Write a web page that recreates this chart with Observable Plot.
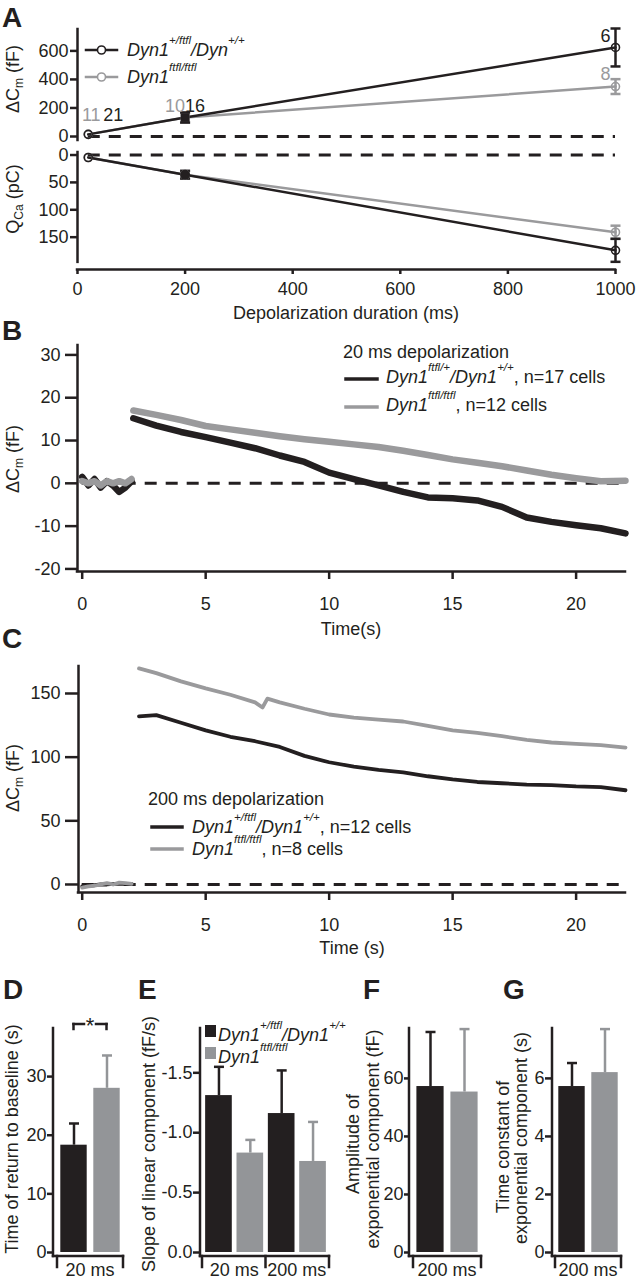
<!DOCTYPE html>
<html>
<head>
<meta charset="utf-8">
<script src="https://cdn.jsdelivr.net/npm/d3@7"></script>
<script src="https://cdn.jsdelivr.net/npm/@observablehq/plot@0.6"></script>
<style>
html,body{margin:0;padding:0;background:#fff;}
#fig{position:relative;width:636px;height:1280px;overflow:hidden;background:#fff;font-family:"Liberation Sans",Arial,Helvetica,sans-serif;color:#231f20;}
.lab{position:absolute;white-space:nowrap;line-height:1;}
.rot{position:absolute;white-space:nowrap;line-height:1;font-size:18px;transform:translate(-50%,-50%) rotate(-90deg);}
.sup{font-size:11.5px;position:relative;top:-12px;font-style:italic;}
.sub{font-size:12px;position:relative;top:4px;}
</style>
</head>
<body>
<div id="fig"></div>
<script>
// ---------------- data ----------------
const genotypes = ["ctrl", "ko"];          // Dyn1+/ftfl (control), Dyn1ftfl/ftfl
// Panel A
const durations = [20, 200, 1000];
const dCmCtrl = [15, 133, 624];
const dCmCtrlErr = [0, 35, 133];
const dCmKo = [15, 133, 350];
const dCmKoErr = [0, 35, 52];
const qCaCtrl = [4.5, 36, 174];
const qCaCtrlErr = [0, 7, 21];
const qCaKo = [4.5, 36, 141];
const qCaKoErr = [0, 7, 12];
const nCtrl = [21, 16, 6];
const nKo = [11, 10, 8];
const durTicks = [0, 200, 400, 600, 800, 1000];
const dCmTicks = [0, 200, 400, 600];
const qCaTicks = [0, 50, 100, 150];
// Panel B (20 ms depolarization)
const tBBase = [0, 0.25, 0.5, 0.75, 1, 1.25, 1.5, 1.75, 2];
const bBaseCtrl = [1.5, -0.5, 1, -1, 0.5, -0.5, -2, -1, 0.5];
const bBaseKo = [0.5, 0, 0.5, -0.5, 0.5, 0, 0.5, 0, 1];
const tB = [2.07, 3, 4, 5, 6, 7, 8, 9, 10, 11, 12, 13, 14, 15, 16, 17, 18, 19, 20, 21, 22];
const bCtrl = [15.2, 13.5, 12, 10.8, 9.5, 8.2, 6.5, 5, 2.5, 1, -0.5, -2, -3.3, -3.5, -4, -5.5, -8, -9, -9.8, -10.5, -11.7];
const bKo = [17, 16, 14.8, 13.4, 12.6, 11.8, 11, 10.3, 9.7, 9.1, 8.5, 7.6, 6.6, 5.6, 4.8, 4, 3, 2, 1.2, 0.5, 0.6];
const bTicksY = [-20, -10, 0, 10, 20, 30];
const timeTicks = [0, 5, 10, 15, 20];
// Panel C (200 ms depolarization)
const tCBase = [0, 0.25, 0.5, 0.75, 1, 1.25, 1.5, 1.75, 2];
const cBaseCtrl = [-1.5, -1, -0.5, 0, 0, 0.5, 0.5, 0.5, 0.5];
const cBaseKo = [-2.5, -1.5, -1, 0, 1, 0, 1.5, 1, 0.5];
const tCCtrl = [2.3, 3, 4, 5, 6, 7, 8, 9, 10, 11, 12, 13, 14, 15, 16, 17, 18, 19, 20, 21, 22];
const cCtrl = [132, 133, 127, 121, 116, 112.5, 108, 101, 96, 92.5, 90, 88, 85, 82.5, 80.5, 79.5, 78.5, 78, 77, 76.5, 74];
const tCKo = [2.3, 3, 4, 5, 6, 7, 7.3, 7.5, 8, 9, 10, 11, 12, 13, 14, 15, 16, 17, 18, 19, 20, 21, 22];
const cKo = [169.7, 166, 159.5, 154, 149, 143, 139, 146, 143, 138, 133.5, 131, 129.5, 128, 124.5, 121, 119, 116.5, 113.5, 111.5, 110.5, 109.5, 107.5];
const cTicksY = [0, 50, 100, 150];
// Panels D-G (mean, SEM; order ctrl, ko)
const dGroup = "20 ms";
const dMean = [18.3, 28.0], dErr = [3.7, 5.6];
const eGroups = ["20 ms", "200 ms"];
const eMeanCtrl = [-1.31, -1.16], eErrCtrl = [0.24, 0.36];
const eMeanKo = [-0.83, -0.76], eErrKo = [0.11, 0.33];
const fgGroup = "200 ms";
const fMean = [57.2, 55.3], fErr = [18.8, 21.7];
const gMean = [5.72, 6.2], gErr = [0.81, 1.5];

// ---------------- styles ----------------
const INK = "#231f20", LINEGREY = "#9a9a9c", BARGREY = "#939598";
const FONT = '"Liberation Sans", Arial, Helvetica, sans-serif';
const baseStyle = {fontFamily: FONT, fontSize: "18px", background: "transparent", overflow: "visible", color: INK};
const colorLines = {domain: genotypes, range: [INK, LINEGREY]};
const colorBars = {domain: genotypes, range: [INK, BARGREY]};
const cap = {draw(ctx, size) { const w = Math.sqrt(size / Math.PI); ctx.moveTo(-w, 0); ctx.lineTo(w, 0); }};
const AX = {stroke: INK, strokeWidth: 2.5, strokeLinecap: "square"};
const DASH = {stroke: INK, strokeWidth: 3, strokeDasharray: "12,9"};

const fig = document.getElementById("fig");
function mount(svg, top) {
  svg.style.position = "absolute"; svg.style.left = "0px"; svg.style.top = top + "px";
  fig.appendChild(svg); return svg;
}
function text(html, x, baseline, {size = 18, anchor = "start", bold = false} = {}) {
  const el = document.createElement("div");
  el.className = "lab"; el.innerHTML = html;
  el.style.fontSize = size + "px";
  el.style.left = x + "px";
  el.style.top = (baseline - 0.8465 * size) + "px";
  if (bold) el.style.fontWeight = "bold";
  if (anchor === "middle") el.style.transform = "translateX(-50%)";
  fig.appendChild(el);
}
function vtext(html, cx, cy) {
  const el = document.createElement("div");
  el.className = "rot"; el.innerHTML = html;
  el.style.left = cx + "px"; el.style.top = cy + "px";
  fig.appendChild(el);
}

// ---------------- Panel A ----------------
const rowsA = [];
[["ko", dCmKo, dCmKoErr, qCaKo, qCaKoErr, nKo], ["ctrl", dCmCtrl, dCmCtrlErr, qCaCtrl, qCaCtrlErr, nCtrl]]
  .forEach(([g, dcm, dcmE, q, qE, n]) => durations.forEach((d, i) =>
    rowsA.push({dur: d, g, dcm: dcm[i], dcmErr: dcmE[i], q: q[i], qErr: qE[i], n: n[i]})));

function errMarks(data, y, e) {
  const f = d => d[e] > 0;
  return [
    Plot.ruleX(data, {filter: f, x: "dur", y1: d => d[y] - d[e], y2: d => d[y] + d[e], stroke: "g", strokeWidth: 2.5}),
    Plot.dot(data, {filter: f, x: "dur", y: d => d[y] + d[e], symbol: cap, r: 5, stroke: "g", fill: "none", strokeWidth: 2.5}),
    Plot.dot(data, {filter: f, x: "dur", y: d => d[y] - d[e], symbol: cap, r: 5, stroke: "g", fill: "none", strokeWidth: 2.5})
  ];
}
// label offsets (px) for the n annotations, per genotype and duration index
const nOffsets = {ctrl: [[25, -19], [10, -11], [-10, -11]], ko: [[3, -19], [-10, -11], [-10, -12]]};
const nMarks = rowsA.map(r => {
  const i = durations.indexOf(r.dur);
  return Plot.text([r], {x: "dur", y: "dcm", text: "n", fill: "g", dx: nOffsets[r.g][i][0], dy: nOffsets[r.g][i][1]});
});
const isMid = d => d.dur === durations[1];

mount(Plot.plot({
  width: 636, height: 150, marginLeft: 77, marginRight: 21, marginTop: 29, marginBottom: 10,
  x: {domain: [0, 1000], axis: null},
  y: {domain: [-28, 750]},
  color: colorLines, style: baseStyle,
  marks: [
    Plot.ruleX([0], {y1: -28, y2: 750, ...AX}),
    Plot.axisY(dCmTicks, {tickSize: 7, tickPadding: 2, strokeWidth: 2.5, label: null, tickFormat: d => String(d)}),
    Plot.ruleY([0], {x1: durations[0], x2: 1000, ...DASH}),
    Plot.line(rowsA, {x: "dur", y: "dcm", z: "g", stroke: "g", strokeWidth: 2.5}),
    ...errMarks(rowsA, "dcm", "dcmErr"),
    Plot.dot(rowsA, {filter: d => !isMid(d), x: "dur", y: "dcm", r: 4, stroke: "g", fill: "none", strokeWidth: 1.6}),
    Plot.dot(rowsA, {filter: isMid, x: "dur", y: "dcm", r: 5, symbol: "square", fill: "g"}),
    ...nMarks
  ]
}), 0);

mount(Plot.plot({
  width: 636, height: 160, marginLeft: 77, marginRight: 21, marginTop: 12, marginBottom: 31,
  x: {domain: [0, 1000]},
  y: {domain: [209, -4.6]},
  color: colorLines, style: baseStyle,
  marks: [
    Plot.ruleX([0], {y1: -4.6, y2: 196, ...AX}),
    Plot.ruleY([209], {x1: 0, x2: 1000, ...AX}),
    Plot.axisY(qCaTicks, {tickSize: 7, tickPadding: 2, strokeWidth: 2.5, label: null, tickFormat: d => String(d)}),
    Plot.axisX(durTicks, {tickSize: 5, tickPadding: 8, strokeWidth: 2.5, label: null, tickFormat: d => String(d)}),
    Plot.ruleY([0], {x1: durations[0], x2: 1000, ...DASH}),
    Plot.line(rowsA, {x: "dur", y: "q", z: "g", stroke: "g", strokeWidth: 2.5}),
    ...errMarks(rowsA, "q", "qErr"),
    Plot.dot(rowsA, {filter: d => !isMid(d), x: "dur", y: "q", r: 4, stroke: "g", fill: "none", strokeWidth: 1.6}),
    Plot.dot(rowsA, {filter: isMid, x: "dur", y: "q", r: 5, fill: "g"})
  ]
}), 140);

// ---------------- Panels B & C ----------------
const toRows = (ts, vs) => ts.map((t, i) => ({t, v: vs[i]}));
function tracePlot({yDomain, yTicks, xDomain, marginLeft, marginTop, marginBottom, base, resp, width, tickSizeY}) {
  return Plot.plot({
    width: 636, height: 300, marginLeft, marginRight: 11, marginTop, marginBottom,
    x: {domain: xDomain},
    y: {domain: yDomain},
    style: baseStyle,
    marks: [
      Plot.ruleX([xDomain[0]], {y1: yDomain[0], y2: yDomain[1], ...AX}),
      Plot.ruleY([yDomain[0]], {x1: xDomain[0], x2: xDomain[1], ...AX}),
      Plot.axisY(yTicks, {tickSize: tickSizeY, tickPadding: 5, strokeWidth: 2.5, label: null, tickFormat: d => String(d)}),
      Plot.axisX(timeTicks, {tickSize: 8, tickPadding: 18, strokeWidth: 2.5, label: null, tickFormat: d => String(d)}),
      Plot.ruleY([0], {x1: 0, x2: xDomain[1], ...DASH}),
      Plot.line(resp.ko, {x: "t", y: "v", stroke: LINEGREY, strokeWidth: width, strokeLinejoin: "round"}),
      Plot.line(resp.ctrl, {x: "t", y: "v", stroke: INK, strokeWidth: width, strokeLinejoin: "round"}),
      Plot.line(base.ctrl, {x: "t", y: "v", stroke: INK, strokeWidth: width, strokeLinejoin: "round"}),
      Plot.line(base.ko, {x: "t", y: "v", stroke: LINEGREY, strokeWidth: width, strokeLinejoin: "round"})
    ]
  });
}
mount(tracePlot({
  yDomain: [-20.6, 32.2], yTicks: bTicksY, xDomain: [-0.19, 22], marginLeft: 77, marginTop: 15, marginBottom: 59,
  base: {ctrl: toRows(tBBase, bBaseCtrl), ko: toRows(tBBase, bBaseKo)},
  resp: {ctrl: toRows(tB, bCtrl), ko: toRows(tB, bKo)}, width: 6.5, tickSizeY: 12
}), 330);
mount(tracePlot({
  yDomain: [-6.3, 171.2], yTicks: cTicksY, xDomain: [-0.15, 22], marginLeft: 78, marginTop: 16, marginBottom: 58,
  base: {ctrl: toRows(tCBase, cBaseCtrl), ko: toRows(tCBase, cBaseKo)},
  resp: {ctrl: toRows(tCCtrl, cCtrl), ko: toRows(tCKo, cKo)}, width: 3.8, tickSizeY: 13
}), 650);

// ---------------- Panels D-G ----------------
const PTOP = 1000, PH = 280, PMT = 28, PMB = 28;
function barPanel(p) {
  return Plot.plot({
    width: 636, height: PH, marginLeft: p.marginLeft, marginRight: 636 - p.xRange[1], marginTop: PMT, marginBottom: PMB,
    x: {type: "band", domain: p.keys, range: p.xRange, paddingInner: p.pi, paddingOuter: p.po, round: false, axis: null},
    y: {domain: p.yDomain},
    color: colorBars, style: baseStyle,
    marks: [
      Plot.barY(p.rows, {x: "k", y: "m", fill: "g"}),
      Plot.ruleX(p.rows, {x: "k", y1: "m", y2: "top", stroke: "g", strokeWidth: 2.5}),
      Plot.dot(p.rows, {x: "k", y: "top", symbol: cap, r: 5, stroke: "g", fill: "none", strokeWidth: 2.5}),
      Plot.axisY(p.ticks, {tickSize: p.tickSize, tickPadding: 1, strokeWidth: 2.5, label: null, tickFormat: p.fmt || (d => String(d))})
    ]
  });
}
const pairRows = (means, errs, sign = 1) => genotypes.map((g, i) => ({k: g, g, m: means[i], top: means[i] + sign * errs[i]}));
const panels = {
  D: {keys: genotypes, rows: pairRows(dMean, dErr), xRange: [57, 123], pi: 0.2, po: 0.1, marginLeft: 53,
      yDomain: [0, 38.2], ticks: [0, 10, 20, 30], tickSize: 6, groups: [[dGroup, genotypes]]},
  E: {keys: eGroups.flatMap(gr => genotypes.map(g => gr + "|" + g)),
      rows: eGroups.flatMap((gr, j) => [
        {k: gr + "|ctrl", g: "ctrl", m: eMeanCtrl[j], top: eMeanCtrl[j] - eErrCtrl[j]},
        {k: gr + "|ko", g: "ko", m: eMeanKo[j], top: eMeanKo[j] - eErrKo[j]}]),
      xRange: [202, 329], pi: 0.15, po: 0.1, marginLeft: 200,
      yDomain: [0, -1.87], ticks: [0, -0.5, -1, -1.5], tickSize: 7, fmt: d => Math.abs(d) < 1e-9 ? "0.0" : d.toFixed(1),
      groups: eGroups.map(gr => [gr, genotypes.map(g => gr + "|" + g)])},
  F: {keys: genotypes, rows: pairRows(fMean, fErr), xRange: [413, 481], pi: 0.2, po: 0.1, marginLeft: 409,
      yDomain: [0, 77.2], ticks: [0, 20, 40, 60], tickSize: 5, groups: [[fgGroup, genotypes]]},
  G: {keys: genotypes, rows: pairRows(gMean, gErr), xRange: [555, 621], pi: 0.2, po: 0.1, marginLeft: 552,
      yDomain: [0, 7.72], ticks: [0, 2, 4, 6], tickSize: 7, groups: [[fgGroup, genotypes]]}
};
Object.values(panels).forEach(p => mount(barPanel(p), PTOP));

// ---------------- overlay decorations ----------------
const ov = d3.select(fig).append("svg").attr("width", 636).attr("height", 1280)
  .style("position", "absolute").style("left", "0px").style("top", "0px").style("overflow", "visible");
function seg(x1, y1, x2, y2, stroke = INK, w = 2.5) {
  ov.append("line").attr("x1", x1).attr("y1", y1).attr("x2", x2).attr("y2", y2)
    .attr("stroke", stroke).attr("stroke-width", w).attr("stroke-linecap", "square");
}
const yAxisBottom = PTOP + PH - PMB, bracketY = yAxisBottom + 4, bracketTick = 11;
Object.values(panels).forEach(p => {
  const xb = d3.scaleBand().domain(p.keys).range(p.xRange).paddingInner(p.pi).paddingOuter(p.po);
  const bw = xb.bandwidth();
  seg(p.marginLeft, PTOP + PMT, p.marginLeft, bracketY);
  seg(p.marginLeft, bracketY, p.xRange[1], bracketY);
  const tx = [p.xRange[0], p.xRange[1]];
  p.groups.slice(1).forEach(([gr, ks], j) => {
    const prevLast = p.groups[j][1][p.groups[j][1].length - 1];
    tx.push((xb(prevLast) + bw + xb(ks[0])) / 2);
  });
  tx.forEach(x => seg(x, bracketY, x, bracketY + bracketTick, INK, 2.5));
  p.groups.forEach(([gr, ks]) => {
    const cx = (xb(ks[0]) + xb(ks[ks.length - 1]) + bw) / 2;
    text(gr, cx, 1276, {anchor: "middle"});
  });
  p.xb = xb;
});
// significance bracket in D
{
  const p = panels.D, bw = p.xb.bandwidth();
  const c1 = p.xb("ctrl") + bw / 2, c2 = p.xb("ko") + bw / 2, ys = 1024, mid = (c1 + c2) / 2;
  seg(c1, ys, mid - 6, ys); seg(mid + 6, ys, c2, ys);
  seg(c1, ys, c1, ys + 5); seg(c2, ys, c2, ys + 5);
  text("*", mid, 1034, {anchor: "middle", size: 22});
}
// legend swatches
function lineSwatch(x1, x2, y, stroke, w, circle) {
  seg(x1, y, x2, y, stroke, w);
  if (circle) ov.append("circle").attr("cx", (x1 + x2) / 2).attr("cy", y).attr("r", 4)
    .attr("fill", "white").attr("stroke", stroke).attr("stroke-width", 1.6);
}
lineSwatch(86, 117, 50, INK, 2.5, true);
lineSwatch(86, 117, 77, LINEGREY, 2.5, true);
lineSwatch(346, 377, 379, INK, 3.5);
lineSwatch(346, 377, 407, LINEGREY, 3.5);
lineSwatch(152, 182, 827, INK, 3.5);
lineSwatch(152, 182, 849, LINEGREY, 3.5);
ov.append("rect").attr("x", 205).attr("y", 1025).attr("width", 11).attr("height", 12).attr("fill", INK);
ov.append("rect").attr("x", 205).attr("y", 1047).attr("width", 11).attr("height", 12).attr("fill", BARGREY);

// ---------------- text ----------------
const sup = s => `<span class="sup">${s}</span>`;
const ctrlA = `<i>Dyn1</i>${sup("+/ftfl")}<i>/Dyn</i>${sup("+/+")}`;
const ctrlB = `<i>Dyn1</i>${sup("ftfl/+")}<i>/Dyn1</i>${sup("+/+")}`;
const ctrlC = `<i>Dyn1</i>${sup("+/ftfl")}<i>/Dyn1</i>${sup("+/+")}`;
const koLab = `<i>Dyn1</i>${sup("ftfl/ftfl")}`;

// panel letters
[["A", 2, 28], ["B", 2, 341], ["C", 2, 649], ["D", 3, 1000], ["E", 138, 1000], ["F", 363, 1000], ["G", 503, 1000]]
  .forEach(([l, x, y]) => text(l, x, y, {size: 28, bold: true}));

// legends
text(ctrlA, 127, 56.5);
text(koLab, 127, 83);
text("20 ms depolarization", 343, 358.5);
text(ctrlB + ", n=17 cells", 386, 383);
text(koLab + ", n=12 cells", 386, 411);
text("200 ms depolarization", 148, 805);
text(ctrlC + ", n=12 cells", 192, 833);
text(koLab + ", n=8 cells", 192, 855);
text(ctrlC, 218, 1041);
text(koLab, 218, 1063);

// axis titles
text("Depolarization duration (ms)", 346, 319, {anchor: "middle"});
text("Time(s)", 351, 635, {anchor: "middle"});
text("Time (s)", 352, 954, {anchor: "middle"});
vtext('&Delta;C<span class="sub">m</span> (fF)', 13, 79);
vtext('Q<span class="sub">Ca</span> (pC)', 13, 199);
vtext('&Delta;C<span class="sub">m</span> (fF)', 13, 459);
vtext('&Delta;C<span class="sub">m</span> (fF)', 13, 778);
vtext("Time of return to baseline (s)", 12, 1139);
vtext("Slope of linear component (fF/s)", 149, 1144);
vtext("Amplitude of", 353, 1144);
vtext("exponential component (fF)", 373, 1139);
vtext("Time constant of", 503, 1147);
vtext("exponential component (s)", 521, 1138);
</script>
</body>
</html>
